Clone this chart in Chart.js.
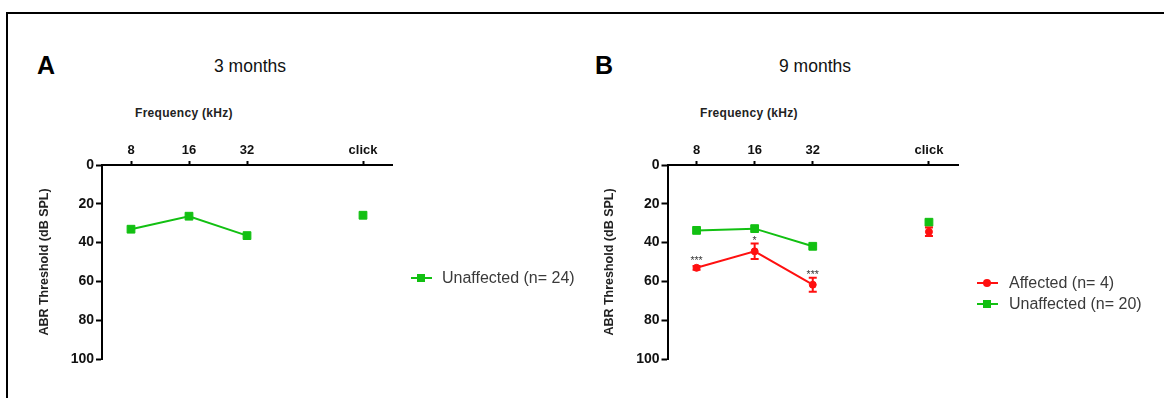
<!DOCTYPE html>
<html>
<head>
<meta charset="utf-8">
<script src="https://cdn.jsdelivr.net/npm/chart.js@4.4.1/dist/chart.umd.min.js"></script>
<style>
  html, body { margin: 0; padding: 0; background: #fff; }
  body { width: 1164px; height: 398px; position: relative; overflow: hidden; font-family: "Liberation Sans", Arial, sans-serif; }
  .frame { position: absolute; left: 6px; top: 12px; width: 1200px; height: 420px; border-top: 2.5px solid #000; border-left: 2.5px solid #000; box-sizing: border-box; }
  .abs { position: absolute; white-space: nowrap; }
  .letter { font-weight: bold; font-size: 25px; line-height: 30px; color: #000; }
  .title { font-size: 17.5px; line-height: 20px; color: #111; }
  .freq { font-weight: bold; font-size: 12px; line-height: 14px; letter-spacing: 0.3px; color: #222; }
  .leg { font-size: 16px; line-height: 20px; color: #3a3a3a; }
  .legline { position: absolute; height: 2px; width: 21px; }
  .legsq { position: absolute; width: 8px; height: 8px; }
  .legci { position: absolute; width: 8px; height: 8px; border-radius: 50%; }
  canvas { position: absolute; }
</style>
</head>
<body>
<div class="frame"></div>

<div class="abs letter" style="left:37px; top:50px;">A</div>
<div class="abs title" style="left:250px; top:56px; transform:translateX(-50%);">3 months</div>
<div class="abs freq" style="left:135px; top:106px;">Frequency (kHz)</div>

<div class="abs letter" style="left:595px; top:50px;">B</div>
<div class="abs title" style="left:815px; top:56px; transform:translateX(-50%);">9 months</div>
<div class="abs freq" style="left:700px; top:106px;">Frequency (kHz)</div>

<canvas id="chartA" width="375" height="230" style="left:37px; top:140px; width:375px; height:230px;"></canvas>
<canvas id="chartB" width="376" height="230" style="left:602px; top:140px; width:376px; height:230px;"></canvas>

<!-- Legend A -->
<div class="legline" style="left:411px; top:277px; background:#12c012;"></div>
<div class="legsq" style="left:417px; top:274px; background:#12c012;"></div>
<div class="abs leg" style="left:442px; top:268px;">Unaffected (n= 24)</div>

<!-- Legend B -->
<div class="legline" style="left:977px; top:282px; background:#ff1010;"></div>
<div class="legci" style="left:983px; top:279px; background:#ff1010;"></div>
<div class="abs leg" style="left:1009px; top:273px;">Affected (n= 4)</div>
<div class="legline" style="left:977px; top:303px; background:#12c012;"></div>
<div class="legsq" style="left:983px; top:300px; background:#12c012;"></div>
<div class="abs leg" style="left:1009px; top:294px;">Unaffected (n= 20)</div>

<script>
// ---- data ----
const frequencyLabels = ['8', '16', '32', '', 'click'];
const unaffected3m = [33.1, 26.4, 36.4, null, 25.9];
const unaffected9m = [33.7, 32.8, 41.9, null, 29.5];
const affected9m = [53.0, 44.5, 61.7, null, 34.4];
const affected9mSEM = [1.0, 4.0, 3.6, null, 2.2];
const affected9mSig = ['***', '*', '***', '', ''];
const yMin = 0, yMax = 100, yStep = 20;

const GREEN = '#12c012';
const RED = '#ff1010';

const errorBarPlugin = {
  id: 'errorBars',
  afterDatasetsDraw(chart) {
    const ctx = chart.ctx;
    const ys = chart.scales.y;
    chart.data.datasets.forEach((ds, i) => {
      const meta = chart.getDatasetMeta(i);
      if (meta.hidden) return;
      meta.data.forEach((pt, j) => {
        const v = ds.data[j];
        if (v == null) return;
        let top = pt.y - (ds.pointRadius || 3) - 1;
        if (ds.errors && ds.errors[j] != null) {
          const e = ds.errors[j];
          const yTop = ys.getPixelForValue(v - e);
          const yBot = ys.getPixelForValue(v + e);
          ctx.save();
          ctx.strokeStyle = ds.borderColor;
          ctx.lineWidth = 2;
          ctx.beginPath();
          ctx.moveTo(pt.x, yTop); ctx.lineTo(pt.x, yBot);
          ctx.moveTo(pt.x - 4, yTop); ctx.lineTo(pt.x + 4, yTop);
          ctx.moveTo(pt.x - 4, yBot); ctx.lineTo(pt.x + 4, yBot);
          ctx.stroke();
          ctx.restore();
          top = Math.min(top, yTop);
        }
        if (ds.sig && ds.sig[j]) {
          ctx.save();
          ctx.fillStyle = '#3a3a3a';
          ctx.font = '10.5px "Liberation Sans", Arial, sans-serif';
          ctx.textAlign = 'center';
          ctx.textBaseline = 'alphabetic';
          ctx.fillText(ds.sig[j], pt.x, top + 0.5);
          ctx.restore();
        }
      });
    });
  }
};

function makeOptions(yAxisWidth) {
  return {
    responsive: false,
    animation: false,
    layout: { padding: { left: 0, right: 20, top: 0, bottom: 11 } },
    plugins: { legend: { display: false }, tooltip: { enabled: false } },
    scales: {
      x: {
        type: 'category',
        position: 'top',
        offset: true,
        grid: {
          drawOnChartArea: false,
          drawTicks: true,
          tickLength: 4,
          tickWidth: 2,
          offset: false,
          tickColor: (c) => (frequencyLabels[c.index] === '' ? 'rgba(0,0,0,0)' : '#000')
        },
        border: { display: true, color: '#000', width: 2 },
        ticks: {
          autoSkip: false, maxRotation: 0, padding: 3, color: '#111',
          font: { family: '"Liberation Sans", Arial, sans-serif', size: 13, weight: 'bold' }
        },
        afterFit: (s) => { s.height = 25; }
      },
      y: {
        type: 'linear',
        reverse: true,
        min: yMin, max: yMax,
        grid: { drawOnChartArea: false, drawTicks: true, tickLength: 6, tickWidth: 2, tickColor: '#000' },
        border: { display: true, color: '#000', width: 2 },
        ticks: {
          stepSize: yStep, padding: 2, color: '#111',
          font: { family: '"Liberation Sans", Arial, sans-serif', size: 14, weight: 'bold' }
        },
        title: {
          display: true, text: 'ABR Threshold (dB SPL)', color: '#222', padding: 0,
          font: { family: '"Liberation Sans", Arial, sans-serif', size: 12.5, weight: 'bold' }
        },
        afterFit: (s) => { s.width = yAxisWidth; }
      }
    }
  };
}

new Chart(document.getElementById('chartA'), {
  type: 'line',
  data: {
    labels: frequencyLabels,
    datasets: [{
      label: 'Unaffected (n= 24)',
      data: unaffected3m,
      borderColor: GREEN, backgroundColor: GREEN,
      borderWidth: 2, pointStyle: 'rect', pointRadius: 5.5, pointBorderWidth: 1,
      spanGaps: false, tension: 0
    }]
  },
  options: makeOptions(65),
  plugins: [errorBarPlugin]
});

new Chart(document.getElementById('chartB'), {
  type: 'line',
  data: {
    labels: frequencyLabels,
    datasets: [{
      label: 'Unaffected (n= 20)',
      data: unaffected9m,
      borderColor: GREEN, backgroundColor: GREEN,
      borderWidth: 2, pointStyle: 'rect', pointRadius: 5.5, pointBorderWidth: 1,
      spanGaps: false, tension: 0
    }, {
      label: 'Affected (n= 4)',
      data: affected9m,
      errors: affected9mSEM,
      sig: affected9mSig,
      borderColor: RED, backgroundColor: RED,
      borderWidth: 2, pointStyle: 'circle', pointRadius: 3.5, pointBorderWidth: 1,
      spanGaps: false, tension: 0
    }]
  },
  options: makeOptions(65.5),
  plugins: [errorBarPlugin]
});
</script>
</body>
</html>
